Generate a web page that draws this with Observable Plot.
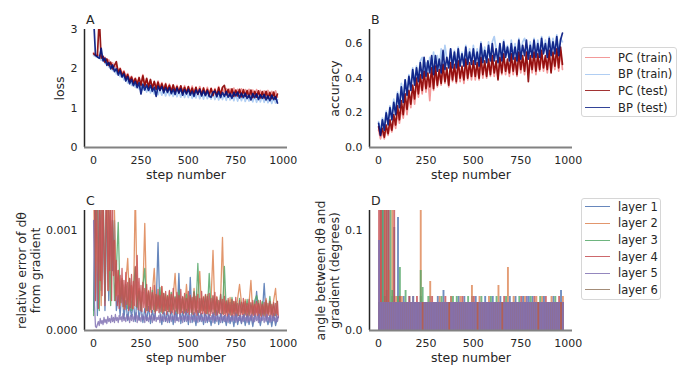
<!DOCTYPE html>
<html><head><meta charset="utf-8">
<script src="https://cdn.jsdelivr.net/npm/d3@7"></script>
<script src="https://cdn.jsdelivr.net/npm/@observablehq/plot@0.6"></script>
<style>
body{margin:0;background:#fff;font-family:"DejaVu Sans",sans-serif;}
#wrap{position:relative;width:692px;height:378px;overflow:hidden;background:#fff;}
.legend{position:absolute;box-sizing:border-box;border:1px solid #d6d6d6;border-radius:3px;background:#fff;font-size:11.5px;color:#262626;}
.legend .sw{position:absolute;left:3px;width:25px;height:0;}
.legend .lb{position:absolute;left:36px;white-space:nowrap;line-height:14px;}
</style></head><body><div id="wrap"></div>
<script>
// ---------- tick labels / categories ----------
const xTicks = [0, 250, 500, 750, 1000];
const lossTicks = [0, 1, 2, 3];
const accTicks = [0, 0.2, 0.4, 0.6];
const errTicks = [0, 0.001];
const angTicks = [0, 0.1];
const perfNames = ["PC (train)", "BP (train)", "PC (test)", "BP (test)"];
const layerNames = ["layer 1", "layer 2", "layer 3", "layer 4", "layer 5", "layer 6"];

// ---------- A: loss, every 10 steps from step 0 ----------
const lossPCtrain = [2.41,2.37,2.35,2.34,2.32,2.26,2.29,2.18,2.23,2.10, 2.15,2.00,2.08,1.94,2.02,1.88,1.95,1.80,1.88,1.74, 1.81,1.68,1.77,1.65,1.74,1.62,1.85,1.60,1.72,1.56, 1.70,1.54,1.67,1.52,1.69,1.50,1.65,1.48,1.63,1.47, 1.61,1.45,1.59,1.44,1.58,1.43,1.56,1.42,1.57,1.41, 1.54,1.40,1.56,1.39,1.53,1.38,1.55,1.37,1.52,1.36, 1.53,1.36,1.51,1.35,1.50,1.34,1.55,1.36,1.51,1.35, 1.50,1.34,1.49,1.33,1.51,1.32,1.48,1.32,1.49,1.31, 1.47,1.31,1.48,1.30,1.46,1.29,1.47,1.29,1.45,1.28, 1.44,1.27,1.45,1.27,1.43,1.26,1.44,1.28];
const lossBPtrain = [2.34,2.31,2.30,2.28,2.22,2.26,2.14,2.20,2.05,2.12, 1.96,2.04,1.87,1.97,1.80,1.88,1.72,1.81,1.64,1.74, 1.58,1.68,1.53,1.63,1.49,1.59,1.46,1.56,1.41,1.54, 1.39,1.51,1.36,1.50,1.34,1.48,1.33,1.47,1.31,1.47, 1.32,1.45,1.30,1.46,1.29,1.43,1.28,1.44,1.27,1.42, 1.27,1.43,1.25,1.41,1.26,1.42,1.24,1.40,1.23,1.41, 1.24,1.38,1.23,1.39,1.22,1.37,1.21,1.38,1.22,1.36, 1.20,1.37,1.21,1.35,1.19,1.36,1.18,1.34,1.19,1.35, 1.17,1.33,1.18,1.32,1.16,1.33,1.15,1.31,1.16,1.32, 1.15,1.30,1.14,1.29,1.12,1.28,1.13,1.22];
const lossPCtest = [2.38,2.34,2.33,3.30,2.27,2.32,2.17,2.25,2.09,2.17, 2.00,2.09,2.18,1.90,2.00,1.83,1.92,1.75,1.85,1.68, 1.79,1.64,1.75,1.60,1.78,1.58,1.82,1.56,1.76,1.53, 1.73,1.50,1.68,1.48,1.66,1.46,1.62,1.45,1.61,1.44, 1.58,1.42,1.59,1.41,1.55,1.40,1.57,1.39,1.53,1.38, 1.55,1.37,1.51,1.36,1.53,1.35,1.50,1.34,1.51,1.34, 1.48,1.33,1.50,1.32,1.47,1.32,1.52,1.33,1.53,1.58, 1.34,1.48,1.31,1.49,1.30,1.46,1.31,1.48,1.29,1.47, 1.30,1.45,1.28,1.46,1.27,1.43,1.28,1.44,1.26,1.42, 1.26,1.43,1.25,1.40,1.24,1.41,1.23,1.36];
const lossBPtest = [3.30,2.35,2.30,2.27,2.52,2.20,2.27,2.09,2.16,2.00, 2.10,1.93,2.00,1.84,1.95,1.79,1.87,1.69,1.80,1.62, 1.73,1.57,1.68,1.52,1.65,1.36,1.61,1.46,1.59,1.45, 1.58,1.43,1.53,1.30,1.56,1.45,1.55,1.39,1.52,1.40, 1.52,1.37,1.48,1.35,1.51,1.38,1.49,1.33,1.47,1.36, 1.48,1.33,1.43,1.30,1.46,1.36,1.47,1.31,1.44,1.32, 1.44,1.30,1.28,1.41,1.43,1.29,1.42,1.27,1.40,1.30, 1.42,1.28,1.37,1.25,1.40,1.31,1.41,1.26,1.38,1.27, 1.38,1.25,1.33,1.21,1.37,1.27,1.36,1.22,1.34,1.25, 1.35,1.21,1.31,1.19,1.33,1.22,1.29,1.13];

// ---------- B: accuracy, every 10 steps from step 0 ----------
const accPCtrain = [0.10,0.05,0.09,0.05,0.11,0.07,0.13,0.09,0.16,0.11, 0.20,0.14,0.23,0.17,0.27,0.19,0.30,0.23,0.33,0.25, 0.37,0.29,0.39,0.31,0.41,0.32,0.40,0.27,0.43,0.33, 0.44,0.35,0.43,0.36,0.46,0.37,0.44,0.35,0.47,0.38, 0.46,0.37,0.48,0.38,0.46,0.37,0.49,0.39,0.47,0.39, 0.48,0.39,0.47,0.39,0.50,0.40,0.48,0.40,0.49,0.41, 0.50,0.41,0.49,0.40,0.51,0.42,0.52,0.42,0.49,0.41, 0.52,0.42,0.50,0.41,0.53,0.43,0.51,0.42,0.53,0.43, 0.52,0.43,0.53,0.42,0.52,0.44,0.54,0.44,0.52,0.43, 0.54,0.44,0.53,0.45,0.55,0.44,0.56,0.45];
const accBPtrain = [0.15,0.09,0.17,0.12,0.21,0.15,0.24,0.18,0.28,0.21, 0.32,0.25,0.37,0.28,0.39,0.32,0.42,0.35,0.46,0.38, 0.47,0.40,0.50,0.52,0.44,0.49,0.43,0.52,0.45,0.55, 0.46,0.53,0.45,0.57,0.47,0.59,0.51,0.46,0.57,0.48, 0.56,0.47,0.58,0.49,0.55,0.48,0.59,0.49,0.57,0.50, 0.59,0.50,0.57,0.49,0.61,0.51,0.58,0.50,0.61,0.51, 0.61,0.64,0.57,0.51,0.60,0.52,0.62,0.53,0.59,0.52, 0.62,0.53,0.60,0.52,0.63,0.53,0.61,0.63,0.59,0.53, 0.61,0.53,0.63,0.54,0.62,0.54,0.64,0.55,0.62,0.54, 0.64,0.55,0.63,0.56,0.65,0.55,0.63,0.61];
const accPCtest = [0.12,0.07,0.11,0.06,0.13,0.08,0.16,0.10,0.19,0.13, 0.24,0.16,0.27,0.19,0.31,0.22,0.33,0.25,0.36,0.28, 0.40,0.31,0.42,0.33,0.44,0.34,0.43,0.35,0.46,0.34, 0.47,0.36,0.45,0.37,0.48,0.38,0.46,0.36,0.49,0.39, 0.48,0.38,0.50,0.40,0.47,0.39,0.51,0.40,0.49,0.41, 0.50,0.41,0.49,0.40,0.52,0.42,0.50,0.41,0.51,0.42, 0.53,0.43,0.50,0.39,0.52,0.43,0.54,0.44,0.51,0.43, 0.54,0.44,0.52,0.42,0.55,0.45,0.53,0.44,0.55,0.38, 0.53,0.45,0.55,0.44,0.54,0.45,0.56,0.46,0.53,0.45, 0.56,0.43,0.55,0.47,0.57,0.46,0.58,0.48];
const accBPtest = [0.14,0.07,0.16,0.10,0.20,0.13,0.23,0.16,0.26,0.19, 0.31,0.23,0.35,0.26,0.39,0.30,0.41,0.33,0.45,0.36, 0.46,0.38,0.49,0.40,0.52,0.41,0.50,0.43,0.53,0.42, 0.53,0.44,0.51,0.43,0.56,0.45,0.52,0.46,0.57,0.46, 0.55,0.46,0.57,0.47,0.54,0.47,0.58,0.48,0.55,0.48, 0.57,0.48,0.55,0.47,0.60,0.49,0.56,0.49,0.59,0.50, 0.60,0.50,0.57,0.49,0.60,0.50,0.61,0.52,0.58,0.50, 0.60,0.51,0.58,0.50,0.62,0.51,0.59,0.53,0.62,0.51, 0.59,0.52,0.62,0.52,0.60,0.52,0.63,0.54,0.60,0.52, 0.63,0.53,0.61,0.54,0.64,0.53,0.62,0.66];

// ---------- C: relative error of dθ (units of 1e-4) ----------
// layers 1-3: every 10 steps; layers 4-5: every 5 steps; layer 6: every 50 steps
const err1 = [2,14,1.5,13,4,12,2,13,3,11, 6,11,2,3.5,1.5,4.2,1.2,3.0,1.0,2.6, 1.4,2.8,0.9,3.5,1.1,2.5,0.8,2.2,1.0,2.4, 0.7,2.0,1.1,2.3,8.8,1.8,0.6,2.1,0.9,1.9, 0.8,2.2,0.6,2.0,1.0,5.7,0.7,1.9,0.9,2.1, 0.6,5.3,0.8,1.8,0.5,2.0,0.9,1.7,0.6,1.9, 0.8,1.6,0.5,1.8,0.7,2.0,0.6,1.7,0.8,1.5, 0.5,1.7,0.7,1.6,0.4,1.8,0.6,1.5,0.7,1.6, 0.5,1.7,0.6,1.5,0.4,1.6,3.9,1.4,0.5,1.6, 4.7,1.4,0.6,1.5,0.4,1.7,0.5,1.3];
const err2 = [14,3,13,15,2.5,14,13,15,4,14, 13,12,3.5,6.0,2.5,5.2,2.2,4.8,7.2,2.5, 4.5,2.2,14,3.0,4.2,2.5,3.8,10.7,2.4,4.0, 2.2,3.8,6.2,2.0,3.5,2.3,4.4,1.9,3.6,2.1, 3.9,2.0,3.4,5.7,2.2,3.6,1.8,3.3,2.0,4.6, 1.9,3.5,2.1,4.2,1.8,3.3,5.9,2.0,3.4,1.7, 3.6,1.9,3.2,8.0,1.8,3.4,2.0,3.1,9.3,1.7, 3.0,1.8,3.3,1.6,2.9,1.9,3.2,4.6,2.8,1.7, 3.1,1.8,2.7,5.0,1.6,2.9,1.8,3.0,1.5,2.8, 1.7,3.2,1.6,2.9,1.8,3.0,4.2,1.6];
const err3 = [1.5,12,14,2,13,14,3,15,12,2.5, 11,3.0,6.0,10.8,2.8,5.0,2.4,4.6,2.2,5.2, 2.0,4.2,6.3,2.3,3.9,2.1,4.4,6.2,2.0,3.8, 2.1,4.0,1.9,3.6,2.2,4.3,1.8,3.7,2.0,3.5, 1.9,3.8,2.1,3.4,1.7,4.0,2.0,3.3,1.8,3.6, 2.0,3.4,1.7,3.9,1.9,6.7,1.8,3.2,2.0,3.5, 1.7,5.7,1.9,3.4,1.6,3.1,1.8,3.6,1.7,6.4, 1.8,3.0,1.6,3.3,1.7,2.9,1.5,3.2,1.8,2.8, 1.6,3.1,1.5,2.7,1.7,3.0,3.5,2.6,1.6,2.9, 1.5,2.8,1.7,3.4,1.6,2.7,1.5,2.9];
const err4 = [14,13,3.0,15,9,2.2,14,5,13,3.5,15,8,2.5,14,12,4,13,6,14,3, 13,5.5,9,3,7,2.5,6,2.2,5.5,2.8,6.2,2.4,5,2.1,5.8,2.6,4.8,2.0,5.2,2.3, 5.6,2.2,4.9,2.5,6.4,2.4,7.5,2.1,5.2,2.0,4.5,1.9,4.8,2.3,4.2,1.8,4.6,2.0,3.9,1.9, 4.3,1.8,3.8,2.1,4.5,1.7,3.6,2.0,4.1,1.8,3.5,1.9,4.4,1.7,3.7,2.0,3.9,1.6,3.4,1.9, 4.0,1.7,3.6,1.8,4.2,1.6,3.3,1.9,3.8,1.7,3.5,1.6,4.1,1.8,3.4,1.7,3.7,1.6,3.2,1.8, 3.9,1.6,3.5,1.8,3.3,1.6,3.8,1.7,3.4,1.5,3.6,1.8,3.2,1.6,3.9,1.7,3.3,1.5,3.6,1.7, 3.4,1.6,3.7,1.5,3.2,1.7,3.5,1.6,3.8,1.5,3.3,1.6,3.0,1.7,3.6,1.5,3.1,1.6,3.4,1.5, 2.9,1.4,3.2,1.6,2.8,1.5,3.1,1.4,2.9,1.5,3.3,1.4,2.7,1.5,3.0,1.4,2.8,1.6,3.2,1.4, 2.9,1.5,2.7,1.4,3.1,1.5,2.8,1.3,3.0,1.5,2.6,1.4,2.9,1.5,2.7,1.3,3.0,1.4,2.6,1.5, 2.8,1.4,3.0,1.3,2.7,1.5,2.9,1.4,2.6,1.3,2.8,1.5,2.7,1.4,2.9,1.3];
const err5 = [11,2.5,0.4,0.3,0.6,0.9,0.5,1.2,0.7,1.0,0.6,1.3,0.8,1.1,0.7,1.4,0.9,1.2,0.8,1.5, 0.9,1.3,0.8,1.6,1.0,1.3,0.8,1.5,1.1,1.4,0.9,1.7,1.0,1.3,0.9,1.6,1.1,1.4,0.8,1.5, 1.0,1.6,0.9,1.4,1.1,1.8,0.8,1.5,1.0,1.3,0.9,1.6,1.1,1.4,0.8,1.7,1.0,1.3,0.9,1.5, 1.1,1.6,0.8,1.4,1.0,1.7,0.9,1.3,1.1,1.5,0.8,1.6,1.0,1.4,0.9,1.7,1.0,1.3,0.8,1.5, 1.0,1.6,0.9,1.4,1.1,1.5,0.8,1.7,1.0,1.3,0.9,1.6,1.1,1.4,0.8,1.5,1.0,1.8,0.9,1.4, 1.0,1.5,0.8,1.6,1.1,1.3,0.9,1.7,1.0,1.4,0.8,1.5,1.1,1.6,0.9,1.3,1.0,1.7,0.8,1.4, 1.0,1.6,0.9,1.3,1.1,1.5,0.8,1.7,1.0,1.4,0.9,1.5,1.1,1.3,0.8,1.6,1.0,1.4,0.9,1.5, 0.9,1.4,0.8,1.6,1.0,1.3,0.9,1.5,1.0,1.4,0.8,1.6,0.9,1.3,1.0,1.5,0.8,1.4,0.9,1.6, 1.0,1.3,0.8,1.5,0.9,1.4,1.0,1.6,0.8,1.3,0.9,1.5,1.0,1.4,0.8,1.6,0.9,1.3,1.0,1.5, 0.8,1.4,0.9,1.6,1.0,1.3,0.8,1.5,0.9,1.4,1.0,1.3,0.8,1.6,0.9,1.4];
const err6 = [0,0,0,0,0,0,0,0,0,0,0,0,0,0,0,0,0,0,0,0];

// ---------- D: angle between dθ and gradient (millidegrees, max per 10 steps) ----------
const ang1 = [28,150,150,28,40,150,28,34,103,28, 113,28,28,34,28,28,34,28,28,28, 28,28,34,28,28,28,28,34,28,28, 28,34,28,28,40,28,28,28,34,28, 28,28,34,28,28,34,28,28,28,34, 28,34,28,28,28,28,34,28,28,28, 34,28,28,28,34,28,28,28,28,34, 28,28,34,28,28,28,34,28,28,34, 28,34,28,28,28,28,28,34,28,28, 28,28,34,28,28,28,40,28];
const ang2 = [28,150,28,150,28,60,28,150,28,34, 28,28,34,28,28,28,28,28,28,28, 28,28,150,28,28,28,28,49,28,28, 28,28,34,28,28,28,28,28,34,28, 28,28,28,34,28,28,28,28,28,45, 28,28,28,34,28,28,28,28,34,28, 28,28,28,45,28,28,28,28,63,28, 28,34,28,28,28,28,28,34,28,28, 28,28,28,34,28,28,34,28,28,28, 28,34,28,28,28,28,28,34];
const ang3 = [28,28,150,34,150,28,150,40,28,28, 34,63,28,28,40,28,28,28,34,28, 28,28,60,43,28,28,34,28,28,28, 28,28,28,34,28,28,28,28,28,34, 28,34,28,28,28,28,28,34,28,28, 28,28,28,28,34,28,28,28,28,34, 28,28,34,28,28,28,28,34,28,28, 28,28,28,28,34,28,28,28,28,28, 34,28,28,28,28,34,28,28,28,28, 28,28,28,34,28,28,28,28];
const ang4 = [150,150,28,150,150,150,28,28,150,28, 28,34,28,28,28,28,34,28,28,28, 34,28,28,28,28,28,28,28,34,28, 28,28,28,28,28,34,28,28,28,28, 28,28,28,28,34,28,28,28,28,28, 34,28,28,28,28,28,28,28,28,28, 28,28,28,28,28,28,34,28,28,28, 28,28,28,28,28,34,28,28,28,28, 28,28,34,28,28,28,28,28,34,28, 28,28,28,28,28,34,28,28];
const ang5 = [90,28,28,28,28,28,28,28,28,28, 28,28,28,28,28,28,28,28,34,28, 28,28,28,0,28,28,28,28,28,28, 28,28,28,28,28,28,28,0,28,28, 28,28,28,28,28,28,28,28,28,28, 28,28,0,28,28,28,28,28,28,28, 28,28,28,28,28,0,28,28,28,28, 28,28,28,28,28,28,28,28,34,28, 28,28,28,28,0,28,28,28,28,28, 28,28,28,28,28,28,0,28];
const ang6 = [0,0,0,0,0,0,0,0,0,0,0,0,0,0,0,0,0,0,0,0];

// ---------- styles ----------
const perfColors = ["#f08080", "#9cc2f0", "#8b0000", "#00157e"];
const layerColors = ["#4c72b0", "#dd8452", "#55a868", "#c44e52", "#8172b3", "#937860"];
const ink = "#262626";

const series = (vals, step) => vals.map((v, i) => ({s: i * step, v}));
const wrap = document.getElementById("wrap");
const xDomain = [-48, 1023];

function panel(o) {
  const svg = Plot.plot({
    width: 300, height: 185,
    marginLeft: 84, marginRight: 13, marginTop: 29, marginBottom: o.marginBottom,
    style: {fontFamily: "'DejaVu Sans', sans-serif", fontSize: "11px", color: ink, background: "transparent", overflow: "visible"},
    x: {domain: xDomain},
    y: {domain: o.yDomain},
    marks: [
      ...o.marks,
      Plot.ruleX([xDomain[0]], {stroke: ink, strokeWidth: 1.5}),
      Plot.ruleY([o.yDomain[0]], {stroke: "#828282", strokeWidth: 2}),
      Plot.axisX(xTicks, {tickSize: 0, tickPadding: 9, tickFormat: "d", label: null}),
      Plot.axisY(o.yTicks, {tickSize: 0, tickPadding: 7, tickFormat: o.yFmt, label: null}),
      Plot.text([o.ylabel], {frameAnchor: "left", rotate: -90, dx: o.ylabelDx, fontSize: 12.5, lineHeight: 1.12, textAnchor: "middle", lineAnchor: "middle", fill: ink}),
      Plot.text(["step number"], {frameAnchor: "bottom", dy: 27, fontSize: 12.5, textAnchor: "middle", lineAnchor: "middle", fill: ink}),
      Plot.text([o.letter], {frameAnchor: "top-left", dx: 1.5, dy: -10, fontSize: 12.5, textAnchor: "start", lineAnchor: "middle", fill: ink})
    ]
  });
  svg.style.position = "absolute";
  svg.style.left = o.left + "px";
  svg.style.top = o.top + "px";
  wrap.appendChild(svg);
}

function legend(names, colors, opacity, left, top, w, h, padTop, rowH) {
  const box = document.createElement("div");
  box.className = "legend";
  Object.assign(box.style, {left: left + "px", top: top + "px", width: w + "px", height: h + "px"});
  names.forEach((n, i) => {
    const cy = padTop + i * rowH;
    const sw = document.createElement("div");
    sw.className = "sw";
    Object.assign(sw.style, {top: (cy - 1) + "px", borderTop: "1.6px solid " + colors[i], opacity: opacity});
    const lb = document.createElement("div");
    lb.className = "lb";
    lb.style.top = (cy - 7.5) + "px";
    lb.textContent = n;
    box.appendChild(sw); box.appendChild(lb);
  });
  wrap.appendChild(box);
}

const perfLines = (arrs) => arrs.map((a, i) => Plot.lineY(series(a, 10), {x: "s", y: "v", stroke: perfColors[i], strokeWidth: 1.7, strokeOpacity: i < 2 ? 0.8 : 0.9, clip: true}));

// A
panel({left: 0, top: 0, marginBottom: 38, yDomain: [0, 3], yTicks: lossTicks, yFmt: "d", ylabel: "loss", ylabelDx: -25, letter: "A",
  marks: perfLines([lossPCtrain, lossBPtrain, lossPCtest, lossBPtest])});
// B
panel({left: 285, top: 0, marginBottom: 38, yDomain: [0, 0.681], yTicks: accTicks, yFmt: ".1f", ylabel: "accuracy", ylabelDx: -35, letter: "B",
  marks: perfLines([accPCtrain, accBPtrain, accPCtest, accBPtest])});
// C
const errSets = [[err1, 10], [err2, 10], [err3, 10], [err4, 5], [err5, 5], [err6, 50]];
panel({left: 0, top: 181, marginBottom: 36, yDomain: [0, 0.0012], yTicks: errTicks, yFmt: ".3f", ylabel: "relative error of dθ\nfrom gradient", ylabelDx: -56, letter: "C",
  marks: errSets.map(([a, st], i) => Plot.lineY(series(a, st), {x: "s", y: d => d.v * 1e-4, stroke: layerColors[i], strokeWidth: 1.3, strokeOpacity: 0.85, clip: true}))});
// D
const angSets = [ang1, ang2, ang3, ang4, ang5, ang6];
panel({left: 285, top: 181, marginBottom: 36, yDomain: [0, 0.12], yTicks: angTicks, yFmt: ".1f", ylabel: "angle between dθ and\ngradient (degrees)", ylabelDx: -42, letter: "D",
  marks: angSets.map((a, i) => Plot.rect(series(a, 10), {x1: "s", x2: d => d.s + 10, y1: 0, y2: d => d.v * 1e-3, fill: layerColors[i], fillOpacity: i === 4 ? 0.9 : 0.8, clip: true}))});

legend(perfNames, perfColors, 0.8, 581, 47, 96, 70, 10, 16.7);
legend(layerNames, layerColors, 0.85, 581, 198, 80, 102, 8.3, 16.6);
</script></body></html>
